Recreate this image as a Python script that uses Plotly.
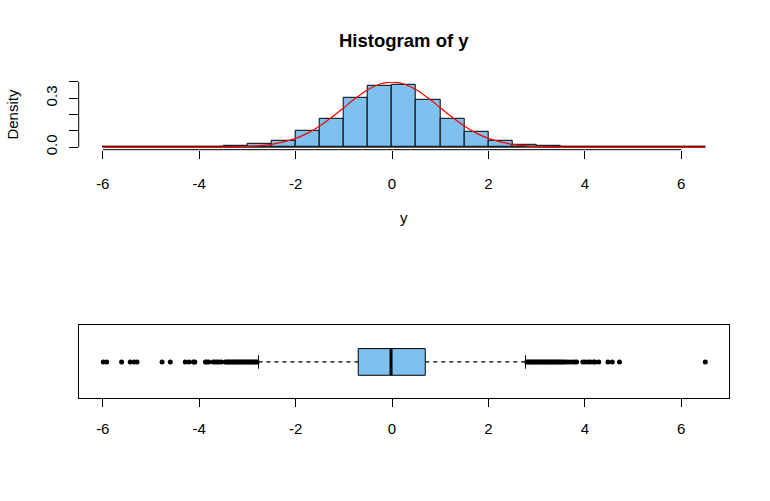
import plotly.graph_objects as go

# ---------------- data ----------------
bin_edges = [-6.0, -5.5, -5.0, -4.5, -4.0, -3.5, -3.0, -2.5, -2.0, -1.5, -1.0, -0.5, 0.0,
             0.5, 1.0, 1.5, 2.0, 2.5, 3.0, 3.5, 4.0, 4.5, 5.0, 5.5, 6.0, 6.5]
hist_density = [0, 0, 0, 0, 0, 0.006, 0.018, 0.036, 0.102, 0.173, 0.300, 0.373, 0.385,
                0.288, 0.173, 0.095, 0.041, 0.015, 0.006, 0, 0, 0, 0, 0, 0]

curve_x = [-6.0, -4.0, -3.5, -3.25, -3.0, -2.75, -2.5, -2.25, -2.0, -1.75, -1.5, -1.25, -1.0,
           -0.75, -0.5, -0.25, 0.0, 0.25, 0.5, 0.75, 1.0, 1.25, 1.5, 1.75, 2.0, 2.25, 2.5,
           2.75, 3.0, 3.25, 3.5, 4.0, 6.5]
curve_y = [0.0, 0.0001, 0.0009, 0.002, 0.0044, 0.009, 0.0175, 0.032, 0.054, 0.086, 0.130,
           0.183, 0.242, 0.301, 0.352, 0.387, 0.399, 0.387, 0.352, 0.301, 0.242, 0.183,
           0.130, 0.086, 0.054, 0.032, 0.0175, 0.009, 0.0044, 0.002, 0.0009, 0.0001, 0.0]

box_q1, box_median, box_q3 = -0.70, -0.02, 0.69
whisker_lo, whisker_hi = -2.77, 2.77
outliers = [-5.99, -5.92, -5.61, -5.43, -5.35, -5.29, -4.77, -4.60, -4.29, -4.21, -4.12,
            -4.09, -3.87, -3.84, -3.80, -3.71, -3.67, -3.63, -3.59, -3.54, -3.46, -3.43,
            -3.40, -3.37, -3.34, -3.31, -3.28, -3.25, -3.22, -3.19, -3.16, -3.13, -3.10,
            -3.07, -3.04, -3.01, -2.98, -2.95, -2.92, -2.89, -2.86, -2.83, -2.80,
            2.80, 2.83, 2.86, 2.89, 2.92, 2.95, 2.98, 3.01, 3.04, 3.07, 3.10, 3.13, 3.16,
            3.19, 3.22, 3.25, 3.28, 3.31, 3.34, 3.37, 3.40, 3.43, 3.46, 3.49, 3.52, 3.55,
            3.59, 3.63, 3.68, 3.74, 3.79, 3.83, 3.96, 4.01, 4.07, 4.12, 4.18, 4.21, 4.29,
            4.48, 4.57, 4.72, 6.50]

x_ticks = [-6, -4, -2, 0, 2, 4, 6]
x_ticktext = ["-6", "-4", "-2", "0", "2", "4", "6"]
y_ticks = [0.0, 0.1, 0.2, 0.3, 0.4]
y_ticktext = ["0.0", "", "", "0.3", ""]

# ---------------- style ----------------
FONT = "Liberation Sans, Arial, sans-serif"
FILL = "#7EC0EE"
W, H = 770, 501
x_dom = [78.7 / W, 729.4 / W]
y_dom_top = [(H - 151.5) / H, (H - 82.8) / H]
y_dom_bot = [(H - 403.3) / H, (H - 329.3) / H]
x_range = [-6.5, 7.0]
y_range_top = [-0.0154, 0.4004]
box_h = 0.365
staple_h = 0.185

widths = [bin_edges[i + 1] - bin_edges[i] for i in range(len(hist_density))]
mids = [(bin_edges[i] + bin_edges[i + 1]) / 2 for i in range(len(hist_density))]

fig = go.Figure()

# histogram bars
fig.add_trace(go.Bar(x=mids, y=hist_density, width=widths,
                     marker=dict(color=FILL, line=dict(color="black", width=1)),
                     xaxis="x", yaxis="y", showlegend=False, hoverinfo="skip"))
# zero-height bins baseline
fig.add_trace(go.Scatter(x=[bin_edges[0], bin_edges[-1]], y=[0, 0], mode="lines",
                         line=dict(color="black", width=1), xaxis="x", yaxis="y",
                         showlegend=False, hoverinfo="skip"))
# density curve
fig.add_trace(go.Scatter(x=curve_x, y=curve_y, mode="lines",
                         line=dict(color="red", width=1.2, shape="spline"),
                         xaxis="x", yaxis="y", showlegend=False, hoverinfo="skip"))

# boxplot: whiskers (dashed)
fig.add_trace(go.Scatter(x=[whisker_lo, box_q1, None, box_q3, whisker_hi], y=[0, 0, None, 0, 0],
                         mode="lines", line=dict(color="black", width=1.1, dash="4px,4px"),
                         xaxis="x2", yaxis="y2", showlegend=False, hoverinfo="skip"))
# staples
fig.add_trace(go.Scatter(x=[whisker_lo, whisker_lo, None, whisker_hi, whisker_hi],
                         y=[-staple_h, staple_h, None, -staple_h, staple_h],
                         mode="lines", line=dict(color="black", width=1),
                         xaxis="x2", yaxis="y2", showlegend=False, hoverinfo="skip"))
# box
fig.add_trace(go.Scatter(x=[box_q1, box_q3, box_q3, box_q1, box_q1],
                         y=[-box_h, -box_h, box_h, box_h, -box_h],
                         mode="lines", fill="toself", fillcolor=FILL,
                         line=dict(color="black", width=1),
                         xaxis="x2", yaxis="y2", showlegend=False, hoverinfo="skip"))
# median
fig.add_trace(go.Scatter(x=[box_median, box_median], y=[-box_h, box_h], mode="lines",
                         line=dict(color="black", width=3),
                         xaxis="x2", yaxis="y2", showlegend=False, hoverinfo="skip"))
# outliers
fig.add_trace(go.Scatter(x=outliers, y=[0] * len(outliers), mode="markers",
                         marker=dict(color="black", size=5),
                         xaxis="x2", yaxis="y2", showlegend=False, hoverinfo="skip"))

tickfont = dict(family=FONT, size=15, color="black")

fig.update_layout(
    width=W, height=H,
    margin=dict(l=0, r=0, t=0, b=0),
    paper_bgcolor="white", plot_bgcolor="white",
    bargap=0,
    xaxis=dict(domain=x_dom, range=x_range, tickvals=x_ticks, ticktext=x_ticktext,
               ticks="outside", ticklen=8,
               tickcolor="black", tickwidth=1, showgrid=False, zeroline=False, showline=False,
               tickfont=tickfont, anchor="y", ticklabelstandoff=12),
    yaxis=dict(domain=y_dom_top, range=y_range_top, tickvals=y_ticks, ticktext=y_ticktext,
               ticks="outside", ticklen=9, tickcolor="black", tickwidth=1, tickangle=-90,
               showgrid=False, zeroline=False, showline=False, tickfont=tickfont,
               anchor="x", ticklabelstandoff=6),
    xaxis2=dict(domain=x_dom, range=x_range, tickvals=x_ticks, ticktext=x_ticktext,
                ticks="outside", ticklen=8,
                tickcolor="black", tickwidth=1, showgrid=False, zeroline=False,
                showline=True, linecolor="black", linewidth=1, mirror=True,
                tickfont=tickfont, anchor="y2", ticklabelstandoff=9),
    yaxis2=dict(domain=y_dom_bot, range=[-1, 1], showticklabels=False, ticks="",
                showgrid=False, zeroline=False, showline=True, linecolor="black",
                linewidth=1, mirror=True, anchor="x2"),
    shapes=[
        dict(type="line", xref="x", yref="y domain", x0=x_ticks[0], x1=x_ticks[-1],
             y0=0, y1=0, line=dict(color="black", width=1)),
        dict(type="line", xref="x domain", yref="y", x0=0, x1=0,
             y0=y_ticks[0], y1=y_ticks[-1], line=dict(color="black", width=1)),
    ],
    annotations=[
        dict(text="<b>Histogram of y</b>", xref="paper", yref="paper",
             x=(x_dom[0] + x_dom[1]) / 2, y=(H - 41) / H, xanchor="center", yanchor="middle",
             showarrow=False, font=dict(family=FONT, size=18.5, color="black")),
        dict(text="y", xref="paper", yref="paper", x=(x_dom[0] + x_dom[1]) / 2,
             y=(H - 220) / H, xanchor="center", yanchor="middle", showarrow=False,
             font=dict(family=FONT, size=15, color="black")),
        dict(text="Density", xref="paper", yref="paper", x=13 / W, y=(H - 115) / H,
             xanchor="center", yanchor="middle", textangle=-90, showarrow=False,
             font=dict(family=FONT, size=15, color="black")),
    ],
)

fig.write_html("out.html")
